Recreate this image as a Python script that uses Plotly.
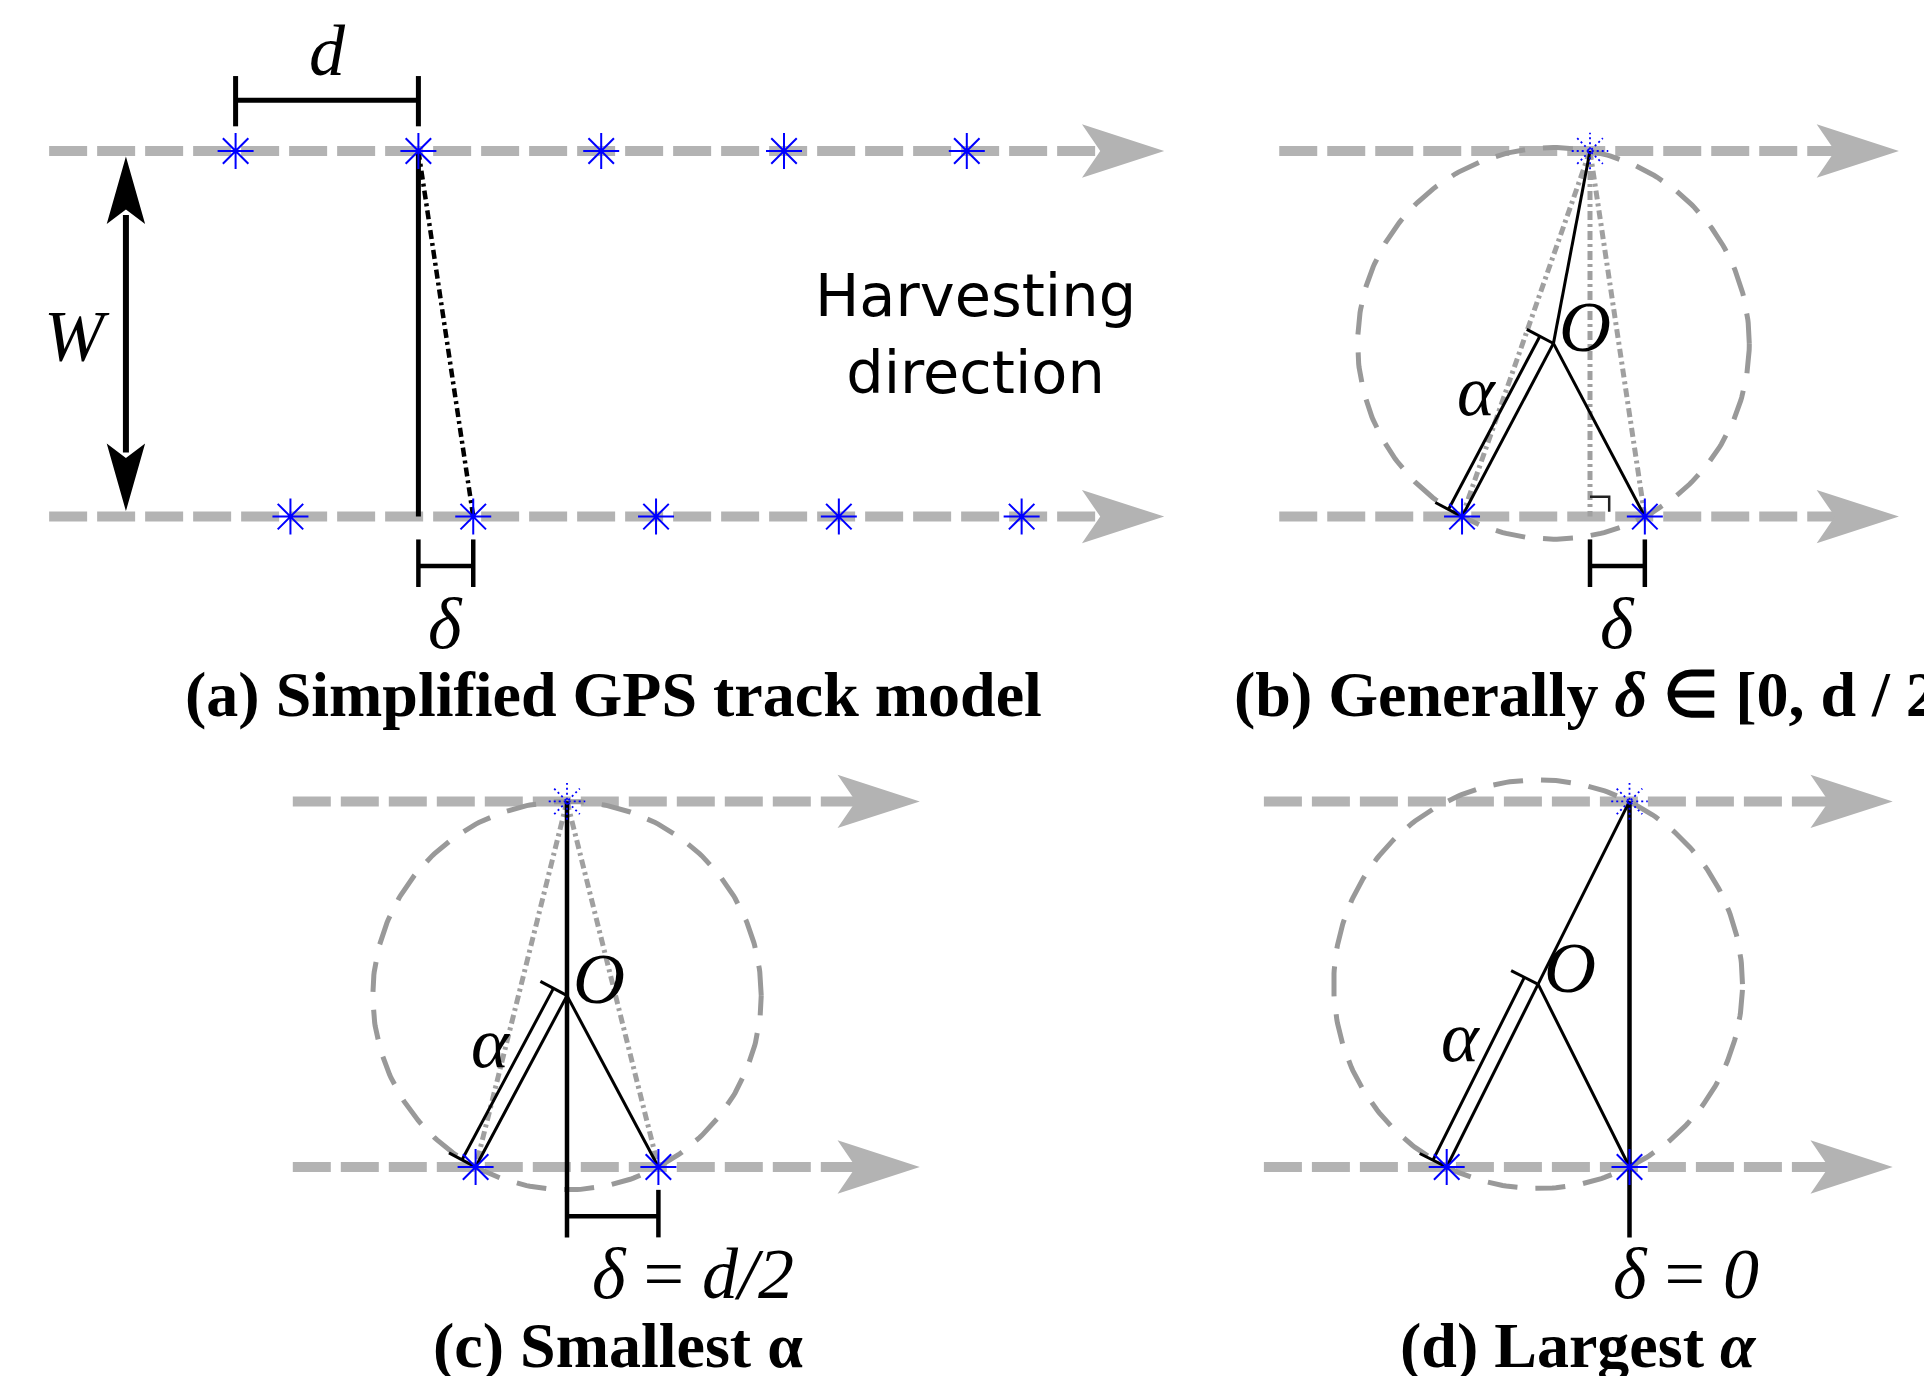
import math
import plotly.graph_objects as go

FIG_W, FIG_H = 1924, 1376
SCALE = 182.8  # pixels per unit of GPS spacing d

# ---- geometry, in units of the along-track GPS spacing d ----
d_spacing = 1.0
swath_width = 2.0          # W: distance between neighbouring passes

panel_ids = ["a", "b", "c", "d"]
delta_values = [0.3, 0.3, 0.5, 0.0]        # along-track offset δ of the lower pass
track_start = [-2.02, -1.70, -1.50, -2.00]
track_tip = [4.08, 1.69, 1.93, 1.44]

# panel (a): GPS fixes of two neighbouring passes
a_upper_points = [-1.0, 0.0, 1.0, 2.0, 3.0]
a_lower_points = [-0.7, 0.3, 1.3, 2.3, 3.3]

panel_titles = [
    "<b>(a) Simplified GPS track model</b>",
    "<b>(b) Generally <i>δ</i> ∈ [0, d / 2]</b>",
    "<b>(c) Smallest α</b>",
    "<b>(d) Largest <i>α</i></b>",
]
delta_texts = ["<i>δ</i>", "<i>δ</i>", "<i>δ</i> = <i>d/2</i>", "<i>δ</i> = <i>0</i>"]
direction_text = "Harvesting<br>direction"

# ---- placement of each panel on the page ----
panel_origin_px = [(418.4, 516.6), (1590.0, 516.6), (567.0, 1167.0), (1629.5, 1167.0)]
title_pos = [(1.067, -0.975, "center"), (-1.953, -0.975, "left"),
             (0.28, -0.975, "center"), (-0.28, -0.975, "center")]
delta_label_pos = [(0.15, -0.585), (0.15, -0.585), (0.69, -0.585), (0.31, -0.585)]

TRACK_GREY = "#b3b3b3"
GUIDE_GREY = "#a0a0a0"
CIRCLE_GREY = "#999999"
GPS_BLUE = "#0000ff"
SERIF = "Liberation Serif"
MATH_SIZE = 72
DASHDOT = "9px,4px,3px,4px"

fig = go.Figure()
annotations = []


def axes_of(i):
    k = "" if i == 0 else str(i + 1)
    return "x" + k, "y" + k


def line(i, xs, ys, color="black", width=3, dash="solid"):
    xa, ya = axes_of(i)
    fig.add_trace(go.Scatter(x=xs, y=ys, mode="lines", xaxis=xa, yaxis=ya,
                             line=dict(color=color, width=width, dash=dash),
                             hoverinfo="skip", showlegend=False))


def polygon(i, xs, ys, color):
    xa, ya = axes_of(i)
    fig.add_trace(go.Scatter(x=xs, y=ys, mode="lines", fill="toself", xaxis=xa, yaxis=ya,
                             fillcolor=color, line=dict(color=color, width=0),
                             hoverinfo="skip", showlegend=False))


def gps_points(i, xs, ys):
    xa, ya = axes_of(i)
    fig.add_trace(go.Scatter(x=xs, y=ys, mode="markers", xaxis=xa, yaxis=ya,
                             marker=dict(symbol="asterisk-open", size=30, color=GPS_BLUE,
                                         line=dict(color=GPS_BLUE, width=2)),
                             hoverinfo="skip", showlegend=False))


def dotted_point(i, x, y):
    # lighter, dotted GPS fix used as the reference point on the upper pass
    r_main, r_diag = 0.10, 0.07
    for dx, dy in [(r_main, 0), (0, r_main), (r_diag, r_diag), (r_diag, -r_diag)]:
        line(i, [x - dx, x + dx], [y - dy, y + dy], color=GPS_BLUE, width=1.8, dash="2px,3px")


def text(i, x, y, s, size=MATH_SIZE, family=SERIF, xanchor="center"):
    xa, ya = axes_of(i)
    annotations.append(dict(x=x, y=y, xref=xa, yref=ya, text=s, showarrow=False,
                            xanchor=xanchor, yanchor="middle", borderpad=0,
                            font=dict(family=family, size=size, color="black")))


def track(i, y):
    x0, tip = track_start[i], track_tip[i]
    line(i, [x0, tip - 0.33], [y, y], color=TRACK_GREY, width=10, dash="38px,10px")
    polygon(i, [tip, tip - 0.45, tip - 0.35, tip - 0.45, tip],
            [y, y + 0.146, y, y - 0.146, y], TRACK_GREY)


def circumcenter(p, q, r):
    ax, ay = p
    bx, by = q
    cx, cy = r
    den = 2 * (ax * (by - cy) + bx * (cy - ay) + cx * (ay - by))
    ux = ((ax**2 + ay**2) * (by - cy) + (bx**2 + by**2) * (cy - ay) + (cx**2 + cy**2) * (ay - by)) / den
    uy = ((ax**2 + ay**2) * (cx - bx) + (bx**2 + by**2) * (ax - cx) + (cx**2 + cy**2) * (bx - ax)) / den
    return ux, uy


def delta_dimension(i, delta):
    for xt in (0.0, delta):
        line(i, [xt, xt], [-0.125, -0.385], width=4.5)
    line(i, [0.0, delta], [-0.27, -0.27], width=4.5)


# ---- panel (a): simplified GPS track model ----
ia = 0
delta_a = delta_values[ia]
track(ia, swath_width)
track(ia, 0.0)
line(ia, [0.0, 0.0], [swath_width, 0.0], width=5)
line(ia, [0.0, delta_a], [swath_width, 0.0], width=4.5, dash=DASHDOT)
# spacing d between consecutive fixes
line(ia, [-d_spacing, -d_spacing], [2.135, 2.41], width=5)
line(ia, [0.0, 0.0], [2.135, 2.41], width=5)
line(ia, [-d_spacing, 0.0], [2.277, 2.277], width=5)
text(ia, -0.5 * d_spacing, 2.545, "<i>d</i>")
# swath width W
wx = -1.6
line(ia, [wx, wx], [0.35, swath_width - 0.35], width=6)
polygon(ia, [wx, wx - 0.105, wx, wx + 0.105, wx],
        [1.97, 1.60, 1.68, 1.60, 1.97], "black")
polygon(ia, [wx, wx - 0.105, wx, wx + 0.105, wx],
        [0.03, 0.40, 0.32, 0.40, 0.03], "black")
text(ia, -1.87, 0.99, "<i>W</i>")
delta_dimension(ia, delta_a)
gps_points(ia, a_upper_points, [swath_width] * len(a_upper_points))
gps_points(ia, a_lower_points, [0.0] * len(a_lower_points))
text(ia, 3.05, 1.0, direction_text, size=59, family="DejaVu Sans")

# ---- panels (b)-(d): circle through the three nearest fixes ----
for i in (1, 2, 3):
    delta = delta_values[i]
    A = (0.0, swath_width)
    C = (delta, 0.0)
    B = (delta - d_spacing, 0.0)
    O = circumcenter(A, B, C)
    R = math.dist(O, A)

    track(i, swath_width)
    track(i, 0.0)

    ts = [2 * math.pi * k / 360 for k in range(361)]
    line(i, [O[0] + R * math.cos(t) for t in ts], [O[1] + R * math.sin(t) for t in ts],
         color=CIRCLE_GREY, width=5, dash="30px,18px")

    # grey construction lines from the upper fix
    if delta > 0:
        line(i, [A[0], B[0]], [A[1], B[1]], color=GUIDE_GREY, width=5, dash=DASHDOT)
        line(i, [A[0], C[0]], [A[1], C[1]], color=GUIDE_GREY, width=5, dash=DASHDOT)
    if 0 < delta < 0.5 * d_spacing:
        line(i, [0.0, 0.0], [A[1], 0.0], color=GUIDE_GREY, width=5, dash=DASHDOT)
        line(i, [0.0, 0.105, 0.105], [0.109, 0.109, 0.027], color="#222222", width=2.5)
    if delta == 0 or delta == 0.5 * d_spacing:
        line(i, [0.0, 0.0], [A[1], -0.385], width=4.5)

    # radii
    for P in (A, B, C):
        line(i, [O[0], P[0]], [O[1], P[1]], width=3)

    # radius dimension α, offset to the left of OB
    ux, uy = (B[0] - O[0]) / R, (B[1] - O[1]) / R
    nx, ny = uy, -ux
    off = 0.084
    line(i, [O[0] + nx * off, B[0] + nx * off], [O[1] + ny * off, B[1] + ny * off], width=3)
    for P in (O, B):
        line(i, [P[0] + nx * 0.005, P[0] + nx * 0.165], [P[1] + ny * 0.005, P[1] + ny * 0.165], width=3)
    mx, my = O[0] + 0.4 * (B[0] - O[0]), O[1] + 0.4 * (B[1] - O[1])
    text(i, mx + nx * 0.25, my + ny * 0.25, "<i>α</i>")
    text(i, O[0] + 0.175, O[1] + 0.09, "<i>O</i>")

    if 0 < delta < 0.5 * d_spacing:
        delta_dimension(i, delta)
    elif delta > 0:
        line(i, [delta, delta], [-0.125, -0.385], width=4.5)
        line(i, [0.0, delta], [-0.27, -0.27], width=4.5)

    gps_points(i, [B[0], C[0]], [0.0, 0.0])
    dotted_point(i, A[0], A[1])

# ---- labels and titles ----
for i in range(4):
    lx, ly = delta_label_pos[i]
    text(i, lx, ly, delta_texts[i])
    tx, ty, anchor = title_pos[i]
    text(i, tx, ty, panel_titles[i], size=64, xanchor=anchor)

layout = dict(width=FIG_W, height=FIG_H, margin=dict(l=0, r=0, t=0, b=0),
              paper_bgcolor="white", plot_bgcolor="rgba(0,0,0,0)",
              showlegend=False, annotations=annotations)
for i, (ox, oy) in enumerate(panel_origin_px):
    k = "" if i == 0 else str(i + 1)
    layout["xaxis" + k] = dict(domain=[0, 1], range=[-ox / SCALE, (FIG_W - ox) / SCALE],
                               visible=False, anchor="y" + k, fixedrange=True)
    layout["yaxis" + k] = dict(domain=[0, 1], range=[(oy - FIG_H) / SCALE, oy / SCALE],
                               visible=False, anchor="x" + k, fixedrange=True)
fig.update_layout(**layout)
fig.write_html("out.html", config=dict(displayModeBar=False))
